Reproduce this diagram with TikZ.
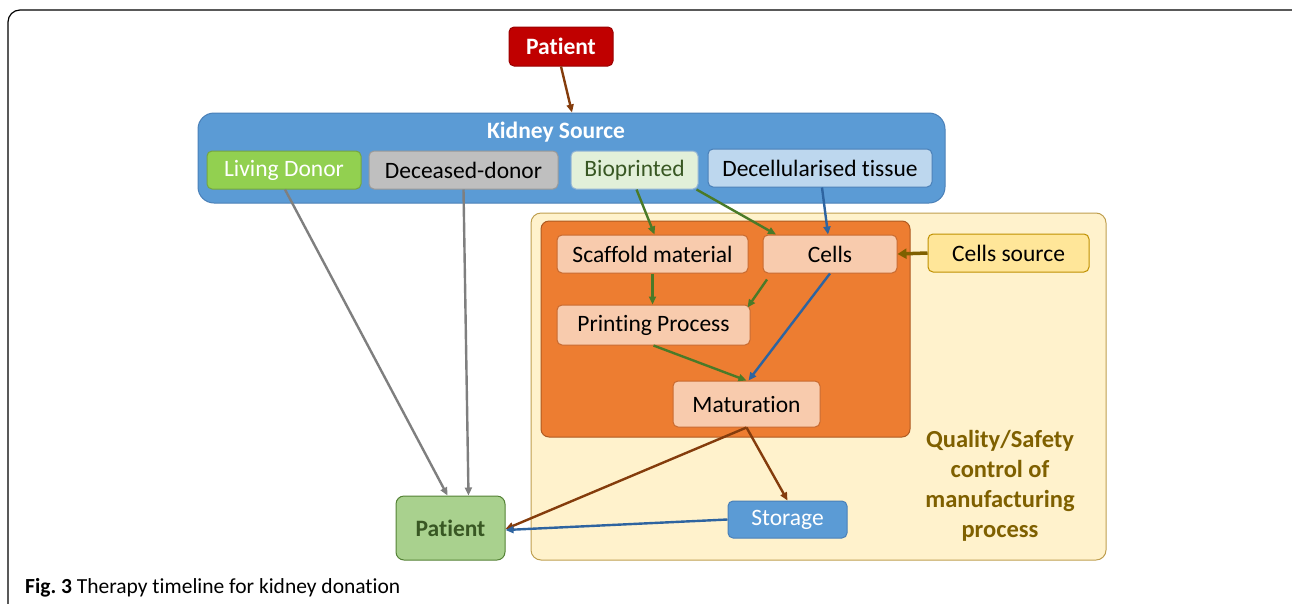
\documentclass[tikz,border=0pt]{standalone}
\usepackage{fontspec}
\setmainfont{Carlito}[Ligatures=NoCommon]
\usetikzlibrary{arrows.meta,calc}
\definecolor{ksblue}{HTML}{5B9BD5}
\definecolor{ksborder}{HTML}{4A80B8}
\definecolor{ptred}{HTML}{C00000}
\definecolor{ldgreen}{HTML}{92D050}
\definecolor{ddgray}{HTML}{BFBFBF}
\definecolor{bpfill}{HTML}{E2F0D9}
\definecolor{bptext}{HTML}{385723}
\definecolor{dtfill}{HTML}{BDD7EE}
\definecolor{qcfill}{HTML}{FFF2CC}
\definecolor{qcborder}{HTML}{BF9F50}
\definecolor{orfill}{HTML}{ED7D31}
\definecolor{orborder}{HTML}{AE5A21}
\definecolor{peach}{HTML}{F8CBAD}
\definecolor{peachborder}{HTML}{C86A30}
\definecolor{csfill}{HTML}{FFE699}
\definecolor{csborder}{HTML}{BF9000}
\definecolor{qtext}{HTML}{7F6000}
\definecolor{pgreen}{HTML}{A9D18E}
\definecolor{pgborder}{HTML}{548235}
\definecolor{agray}{HTML}{7F7F7F}
\definecolor{agreen}{HTML}{4A7A28}
\definecolor{ablue}{HTML}{2E64A0}
\definecolor{abrown}{HTML}{843C0C}
\begin{document}
\begin{tikzpicture}[x=1pt,y=-1pt,
  box/.style={rounded corners=5pt,line width=1pt,inner sep=0pt,font=\fontsize{23.5}{28}\selectfont},
  peachbox/.style={box,fill=peach,draw=peachborder},
  arr/.style={line width=2.4pt,-{Triangle[length=8pt,width=7pt]}},
]
\useasboundingbox (0,0) rectangle (1292,603);
\clip (0,0) rectangle (1292,603);
\draw[line width=1.2pt,rounded corners=12pt] (8,10) rectangle (1310,640);

% Kidney source group
\node[box,rounded corners=16pt,fill=ksblue,draw=ksborder,minimum width=747pt,minimum height=90pt] (ks) at (571.5,158) {};
\node[font=\fontsize{23.5}{28}\selectfont\bfseries,text=white] (kstitle) at (556,132) {Kidney Source};
\node[box,fill=ptred,draw=ptred!80!black,text=white,font=\fontsize{23.5}{28}\selectfont\bfseries,minimum width=104pt,minimum height=39pt] (ptop) at (561,46.5) {Patient};
\node[box,fill=ldgreen,draw=ldgreen!80!black,text=white,minimum width=154pt,minimum height=38pt] (ld) at (284,170) {Living Donor};
\node[box,fill=ddgray,draw=ddgray!80!black,minimum width=189pt,minimum height=38pt] (dd) at (463.5,170) {Deceased-donor};
\node[box,fill=bpfill,draw=ksborder!60,text=bptext,minimum width=127pt,minimum height=38pt] (bp) at (634.5,170) {Bioprinted};
\node[box,fill=dtfill,draw=ksborder,minimum width=224pt,minimum height=38pt] (dt) at (820,168) {Decellularised tissue};

% Quality control group
\node[box,rounded corners=10pt,fill=qcfill,draw=qcborder,minimum width=575pt,minimum height=347pt] (qc) at (818.5,386.5) {};
\node[box,rounded corners=8pt,fill=orfill,draw=orborder,minimum width=369pt,minimum height=216pt] (orange) at (725.5,329) {};
\node[peachbox,minimum width=191pt,minimum height=38pt] (sm) at (652.5,254) {Scaffold material};
\node[peachbox,minimum width=134pt,minimum height=38pt] (cells) at (830,254) {Cells};
\node[peachbox,minimum width=193pt,minimum height=40pt] (pp) at (653.5,325) {Printing Process};
\node[peachbox,minimum width=147pt,minimum height=46pt] (mat) at (746.5,404) {Maturation};
\node[box,fill=csfill,draw=csborder,minimum width=161pt,minimum height=38pt] (cs) at (1008.5,253) {Cells source};
\node[align=center,text=qtext,font=\fontsize{24.5}{30}\selectfont\bfseries] (qlabel) at (1000,486) {Quality/Safety\\control of\\manufacturing\\process};

\node[box,fill=pgreen,draw=pgborder,text=bptext,font=\fontsize{23.5}{28}\selectfont\bfseries,minimum width=109pt,minimum height=64pt,rounded corners=8pt] (pbot) at (450.5,528) {Patient};
\node[box,fill=ksblue,draw=ksborder,text=white,minimum width=119pt,minimum height=37pt] (st) at (787.5,519.5) {Storage};

\node[anchor=west,font=\fontsize{21.5}{25}\selectfont,inner sep=0pt] (cap) at (25,588) {\textbf{Fig.\ 3} Therapy timeline for kidney donation};

% connectors
\draw[arr,abrown] (ptop.south) -- ([xshift=0.5pt]ks.north);
\draw[arr,agray] ([xshift=1pt]ld.south) -- ([xshift=-3pt]pbot.north);
\draw[arr,agray] (dd.south) -- ([xshift=18pt]pbot.north);
\draw[arr,agreen] ([xshift=2pt]bp.south) -- ([xshift=2pt]sm.north);
\draw[arr,agreen] ([xshift=-2pt]bp.south east) -- ([xshift=-54pt]cells.north);
\draw[arr,ablue] ([xshift=2pt]dt.south) -- ([xshift=-2pt]cells.north);
\draw[line width=3.5pt,qtext,-{Triangle[length=9pt,width=10pt]}] (cs.west) -- (cells.east);
\draw[arr,agreen] (sm.south) -- ([xshift=-1pt]pp.north);
\draw[arr,agreen] ([xshift=-63pt,yshift=-6pt]cells.south) -- ([xshift=-3pt,yshift=-3pt]pp.north east);
\draw[arr,agreen] (pp.south) -- (mat.north);
\draw[arr,ablue] (cells.south) -- ([xshift=2pt]mat.north);
\draw[arr,abrown] (mat.south) -- (st.north);
\draw[arr,abrown] (mat.south) -- ([yshift=-1pt]pbot.east);
\draw[arr,ablue] (st.west) -- ([yshift=-2pt]pbot.east);
\end{tikzpicture}
\end{document}
